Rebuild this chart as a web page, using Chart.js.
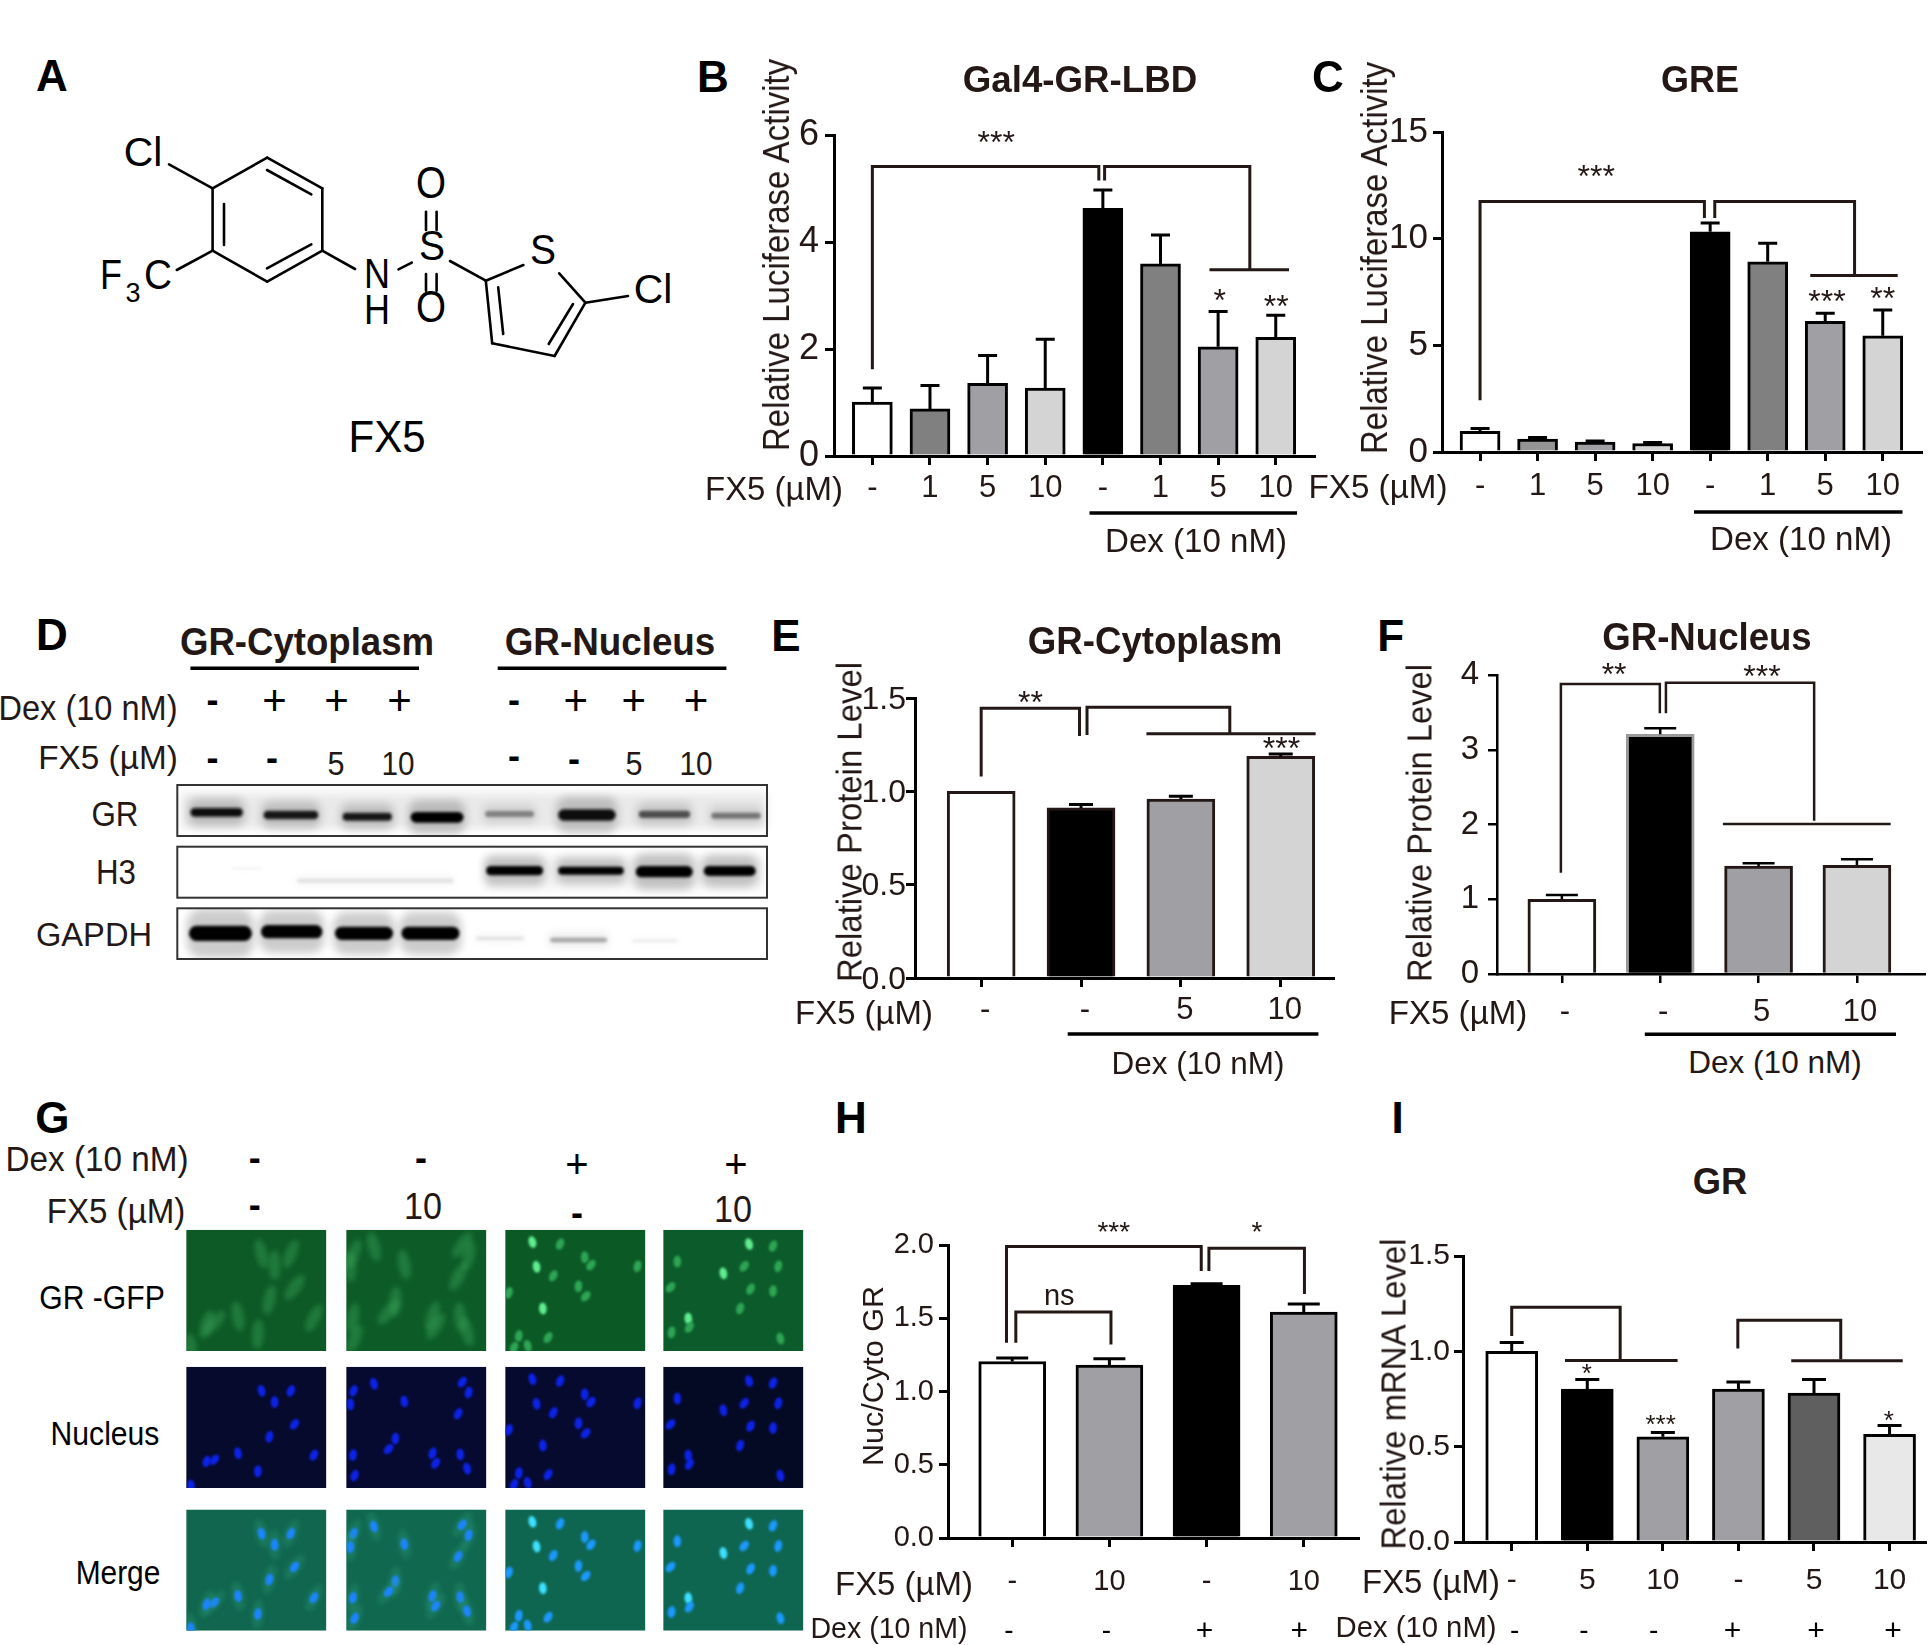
<!DOCTYPE html>
<html>
<head>
<meta charset="utf-8">
<title>FX5</title>
<script src="https://cdn.jsdelivr.net/npm/chart.js@4/dist/chart.umd.min.js"></script>
<style>
  html, body { margin: 0; padding: 0; background: #fff; }
  #page { position: relative; width: 1929px; height: 1645px; overflow: hidden; background: #fff; }
  #page canvas { position: absolute; z-index: 1; }
  #art { position: absolute; left: 0; top: 0; z-index: 0; }
  .txt { position: absolute; z-index: 2; white-space: pre; line-height: 1; font-family: "Liberation Sans", Arial, sans-serif; }
</style>
</head>
<body>
<div id="page"></div>
<script>
const FONT = '"Liberation Sans", Arial, sans-serif';
const INK = '#231815';

// Panel colours
const WHITE = '#ffffff', BLACK = '#000000', DARK = '#808080', MID = '#a0a0a4', LIGHT = '#d4d4d4';

// B - Gal4-GR-LBD
const bLabels = ['-', '1', '5', '10', '-', '1', '5', '10'];
const bValues = [1.01, 0.88, 1.36, 1.27, 4.63, 3.59, 2.04, 2.22];
const bErrors = [0.26, 0.44, 0.52, 0.91, 0.34, 0.54, 0.66, 0.41];
const bColors = [WHITE, DARK, MID, LIGHT, BLACK, DARK, MID, LIGHT];

// C - GRE
const cLabels = ['-', '1', '5', '10', '-', '1', '5', '10'];
const cValues = [0.97, 0.61, 0.47, 0.40, 10.32, 8.92, 6.13, 5.45];
const cErrors = [0.13, 0.07, 0.05, 0.05, 0.41, 0.87, 0.37, 1.21];
const cColors = [WHITE, '#949494', MID, LIGHT, BLACK, DARK, MID, LIGHT];

// E - GR-Cytoplasm
const eLabels = ['-', '-', '5', '10'];
const eValues = [1.0, 0.911, 0.959, 1.187];
const eErrors = [0, 0.018, 0.014, 0.013];
const eColors = [WHITE, BLACK, MID, LIGHT];

// F - GR-Nucleus
const fLabels = ['-', '-', '5', '10'];
const fValues = [1.0, 3.206, 1.445, 1.454];
const fErrors = [0.057, 0.081, 0.035, 0.08];
const fColors = [WHITE, BLACK, MID, LIGHT];

// H - Nuc/Cyto GR
const hLabels = ['-', '10', '-', '10'];
const hValues = [1.205, 1.181, 1.725, 1.542];
const hErrors = [0.024, 0.043, 0.01, 0.056];
const hColors = [WHITE, MID, BLACK, MID];

// I - GR mRNA
const iLabels = ['-', '5', '10', '-', '5', '10'];
const iValues = [1.0, 0.802, 0.552, 0.802, 0.781, 0.565];
const iErrors = [0.046, 0.05, 0.022, 0.037, 0.071, 0.046];
const iColors = [WHITE, BLACK, MID, MID, '#5f5f5f', '#e8e8e8'];

// Significance brackets, as [category index, value] corners on each chart's own scales
const bBrackets = [
  [[0, 1.62], [0, 5.41], [3.93, 5.41], [3.93, 5.15]],
  [[4.03, 5.15], [4.03, 5.41], [6.55, 5.41], [6.55, 3.48]],
  [[5.85, 3.48], [7.23, 3.48]]
];
const cBrackets = [
  [[0, 2.42], [0, 11.74], [3.9, 11.74], [3.9, 10.97]],
  [[4.08, 10.97], [4.08, 11.74], [6.51, 11.74], [6.51, 8.27]],
  [[5.74, 8.27], [7.26, 8.27]]
];
const eBrackets = [
  [[0, 1.08], [0, 1.445], [0.985, 1.445], [0.985, 1.297]],
  [[1.06, 1.302], [1.06, 1.45], [2.49, 1.45], [2.49, 1.31]],
  [[1.655, 1.308], [3.35, 1.308]]
];
const fBrackets = [
  [[-0.01, 1.355], [-0.01, 3.879], [0.996, 3.879], [0.996, 3.487]],
  [[1.058, 3.487], [1.058, 3.897], [2.565, 3.897], [2.565, 2.05]],
  [[1.637, 2.007], [3.343, 2.007]]
];
const hBrackets = [
  [[-0.059, 1.333], [-0.059, 1.99], [1.945, 1.99], [1.945, 1.822]],
  [[2.024, 1.822], [2.024, 1.978], [3.007, 1.978], [3.007, 1.665]],
  [[0.037, 1.333], [0.037, 1.542], [1.016, 1.542], [1.016, 1.32]]
];
const iBrackets = [
  [[0, 1.08], [0, 1.231], [1.435, 1.231], [1.435, 0.959]],
  [[0.705, 0.952], [2.195, 0.952]],
  [[2.992, 1.015], [2.992, 1.163], [4.354, 1.163], [4.354, 0.959]],
  [[3.699, 0.95], [5.174, 0.95]]
];

// Stars and "ns": text, category index, value
const bNotes = [['***', 2.15, 5.95], ['*', 6.03, 3.0], ['**', 7.01, 2.89]];
const cNotes = [['***', 2.02, 13.15], ['***', 6.03, 7.29], ['**', 7.0, 7.42]];
const eNotes = [['**', 0.494, 1.504], ['***', 3.008, 1.258]];
const fNotes = [['**', 0.531, 4.067], ['***', 2.035, 4.045]];
const hNotes = [['***', 1.045, 2.12], ['*', 2.519, 2.116], ['ns', 0.484, 1.653]];
const iNotes = [['*', 0.993, 0.905], ['***', 1.971, 0.639], ['*', 4.99, 0.657]];

const nucleiCol1 = [[500,850],[556,850],[525,882],[563,945],[515,980],[455,1027],[600,1032],[493,1078],[410,1045],[395,1050],[365,1118]];
const nucleiCol2 = [[717,830],[678,850],[672,888],[886,825],[898,855],[775,880],[878,915],[758,985],[745,1015],[829,1027],[882,1030],[835,1055],[677,1032],[895,1070],[680,1090]];
const nucleiCol3 = [[1020,817],[1073,822],[1120,860],[1132,882],[1221,885],[1028,887],[1060,912],[1108,942],[1122,970],[975,960],[1040,1005],[1050,1087],[994,1083],[1011,1110],[985,1115]];
const nucleiCol4 = [[1432,822],[1478,828],[1295,872],[1423,885],[1488,885],[1383,905],[1435,950],[1478,955],[1282,945],[1415,1005],[1316,1033],[1318,1058],[1284,1072],[1492,1090]];

// Western blot bands: x from, x to, y, thickness, darkness
const grBands = [[378,482,637,26,.95],[523,632,645,26,.9],[680,778,650,24,.9],[815,920,652,32,1],[963,1060,642,18,.5],[1108,1222,645,34,.95],[1268,1370,643,22,.7],[1412,1510,647,18,.55]];
const h3Bands = [[965,1078,812,28,1],[1108,1238,812,24,1],[1262,1375,815,34,1],[1397,1500,813,30,1],[590,900,842,12,.12],[460,520,805,5,.06]];
const gapdhBands = [[375,500,1000,46,1],[518,640,995,40,1],[665,780,1000,40,1],[797,912,1000,40,1],[945,1040,1015,10,.12],[1092,1205,1020,14,.35],[1255,1345,1022,8,.08]];

const page = document.getElementById('page');
const measure = document.createElement('canvas').getContext('2d');

/**
 * Places a text centred on (cx, cy); w stretches it to a given length
 */
function label(str, cx, cy, size, opts = {}) {
  const el = document.createElement('span');
  el.className = 'txt';
  el.textContent = str;
  const weight = opts.bold ? 'bold' : 'normal';
  el.style.left = cx + 'px';
  el.style.top = cy + 'px';
  el.style.fontSize = size + 'px';
  el.style.fontWeight = weight;
  el.style.color = opts.color || INK;
  let transform = 'translate(-50%,-50%)';
  if (opts.rot) transform += ` rotate(${opts.rot}deg)`;
  if (opts.w) {
    measure.font = `${weight} ${size}px ${FONT}`;
    transform += ` scaleX(${opts.w / measure.measureText(str).width})`;
  }
  el.style.transform = transform;
  page.appendChild(el);
}

// Draws error bars, brackets and stars from each chart's own scales
const annotations = {
  id: 'annotations',
  afterDatasetsDraw(chart, args, o) {
    const { ctx, scales: { x, y } } = chart;
    ctx.save();
    ctx.strokeStyle = '#000';
    ctx.lineWidth = o.lineWidth;
    o.values.forEach((v, i) => {
      if (!o.errors[i]) return;
      const px = x.getPixelForValue(i);
      const y0 = y.getPixelForValue(v);
      const y1 = y.getPixelForValue(v + o.errors[i]);
      ctx.beginPath();
      ctx.moveTo(px, y0);
      ctx.lineTo(px, y1);
      ctx.moveTo(px - o.capWidth / 2, y1);
      ctx.lineTo(px + o.capWidth / 2, y1);
      ctx.stroke();
    });
    ctx.strokeStyle = INK;
    ctx.lineWidth = o.bracketWidth;
    o.brackets.forEach(path => {
      ctx.beginPath();
      path.forEach(([a, b], i) => {
        const px = x.getPixelForValue(a), py = y.getPixelForValue(b);
        if (i === 0) ctx.moveTo(px, py); else ctx.lineTo(px, py);
      });
      ctx.stroke();
    });
    ctx.fillStyle = INK;
    ctx.textAlign = 'center';
    ctx.textBaseline = 'alphabetic';
    o.notes.forEach(([str, a, b]) => {
      const ns = str === 'ns';
      const size = ns ? o.nsSize : o.starSize;
      ctx.font = `${size}px ${FONT}`;
      // Stars sit high in the em box, so the baseline is pushed down to centre them
      ctx.fillText(str, x.getPixelForValue(a), y.getPixelForValue(b) + size * (ns ? 0.32 : 0.48));
    });
    ctx.restore();
  }
};

/**
 * Creates one bar chart panel with its plot area pinned to the given page position
 */
function barPanel(p) {
  const leftRoom = 70, topRoom = 50, bottomRoom = 70;
  const canvas = document.createElement('canvas');
  canvas.width = p.right - p.axisX + leftRoom;
  canvas.height = p.bottom - p.top + topRoom + bottomRoom;
  canvas.style.left = (p.axisX - leftRoom) + 'px';
  canvas.style.top = (p.top - topRoom) + 'px';
  page.appendChild(canvas);

  const tickLen = 9;
  const axisWidth = p.axisWidth || 3;
  new Chart(canvas.getContext('2d'), {
    type: 'bar',
    data: {
      datasets: [{
        data: p.values.map((v, i) => ({ x: i, y: v })),
        backgroundColor: p.colors,
        borderColor: p.colors.map((c, i) => (p.borderColors && p.borderColors[i]) || '#000'),
        borderWidth: p.barBorder || 3,
        borderSkipped: 'bottom',
        barThickness: p.barWidth
      }]
    },
    options: {
      responsive: false,
      animation: false,
      layout: { padding: { top: topRoom } },
      plugins: {
        legend: { display: false },
        tooltip: { enabled: false },
        annotations: {
          values: p.values, errors: p.errors, brackets: p.brackets, notes: p.notes,
          lineWidth: p.errWidth || 3, capWidth: p.capWidth, bracketWidth: p.bracketWidth || 3,
          starSize: p.starSize, nsSize: p.nsSize || 30
        }
      },
      scales: {
        x: {
          type: 'linear',
          bounds: 'data',
          offset: false,
          min: (p.axisX - p.firstTick) / p.step,
          max: (p.right - p.firstTick) / p.step,
          afterBuildTicks: ax => { ax.ticks = p.labels.map((_, i) => ({ value: i })); },
          afterFit: s => { s.height = bottomRoom; },
          grid: { offset: false, drawOnChartArea: false, tickLength: tickLen, lineWidth: axisWidth, color: '#000' },
          border: { color: '#000', width: axisWidth },
          ticks: {
            autoSkip: false, maxRotation: 0, minRotation: 0,
            padding: p.xLabelY - p.bottom - tickLen - p.xSize * 0.6,
            labelOffset: p.labelOffset || 0,
            color: INK,
            font: { family: FONT, size: p.xSize },
            callback: (v, i) => p.labels[i]
          }
        },
        y: {
          min: 0,
          max: p.yMax,
          afterFit: s => { s.width = leftRoom; },
          grid: { drawOnChartArea: false, tickLength: tickLen, lineWidth: axisWidth, color: '#000' },
          border: { color: '#000', width: axisWidth },
          ticks: {
            stepSize: p.yStep,
            padding: p.yPad,
            labelOffset: p.yLabelOffset || 0,
            color: INK,
            font: { family: FONT, size: p.ySize },
            callback: v => v.toFixed(p.yDigits)
          }
        }
      }
    },
    plugins: [annotations]
  });
}

barPanel({ axisX: 834.4, top: 135, bottom: 456, right: 1317, firstTick: 872.8, step: 57.7, barWidth: 40, capWidth: 19,
  yMax: 6, yStep: 2, yDigits: 0, ySize: 36, yPad: 6, xSize: 31, xLabelY: 488,
  labels: bLabels, values: bValues, errors: bErrors, colors: bColors, brackets: bBrackets, notes: bNotes, starSize: 32 });

barPanel({ axisX: 1442.4, top: 131.6, bottom: 451.8, right: 1924, firstTick: 1480.5, step: 57.6, barWidth: 40, capWidth: 19,
  yMax: 15, yStep: 5, yDigits: 0, ySize: 35, yPad: 5, xSize: 31, xLabelY: 486,
  labels: cLabels, values: cValues, errors: cErrors, colors: cColors, brackets: cBrackets, notes: cNotes, starSize: 32 });

barPanel({ axisX: 915.4, top: 698.3, bottom: 979, right: 1335.6, firstTick: 981.6, step: 99.9, barWidth: 68, capWidth: 24,
  yMax: 1.5, yStep: 0.5, yDigits: 1, ySize: 32, yPad: 0, yLabelOffset: 2, xSize: 31, xLabelY: 1011.7, labelOffset: 4,
  labels: eLabels, values: eValues, errors: eErrors, colors: eColors, borderColors: [INK, INK, INK, INK], brackets: eBrackets, notes: eNotes, starSize: 32 });

barPanel({ axisX: 1496.8, top: 675, bottom: 974, right: 1926, firstTick: 1561.7, step: 98.4, barWidth: 68, capWidth: 32, barBorder: 3,
  yMax: 4, yStep: 1, yDigits: 0, ySize: 33, yPad: 9, xSize: 31, xLabelY: 1012, labelOffset: 3, axisWidth: 2.5, errWidth: 2.5, bracketWidth: 2.5,
  labels: fLabels, values: fValues, errors: fErrors, colors: fColors, borderColors: [INK, '#9a9a9a', INK, INK], brackets: fBrackets, notes: fNotes, starSize: 32 });

barPanel({ axisX: 947.5, top: 1245, bottom: 1538.8, right: 1360, firstTick: 1011.8, step: 97.3, barWidth: 67, capWidth: 32,
  yMax: 2, yStep: 0.5, yDigits: 1, ySize: 29, yPad: 5, xSize: 29, xLabelY: 1583,
  labels: hLabels, values: hValues, errors: hErrors, colors: hColors, brackets: hBrackets, notes: hNotes, starSize: 28, nsSize: 29 });

barPanel({ axisX: 1463.2, top: 1256.4, bottom: 1543, right: 1928, firstTick: 1512, step: 75.7, barWidth: 52, capWidth: 24,
  yMax: 1.5, yStep: 0.5, yDigits: 1, ySize: 30, yPad: 4, xSize: 30, xLabelY: 1582,
  labels: iLabels, values: iValues, errors: iErrors, colors: iColors, brackets: iBrackets, notes: iNotes, starSize: 26 });

/* ---------- Non chart artwork: structure, blots and microscopy fields ---------- */

const art = [];
function seg(x1, y1, x2, y2, w = 2.6, color = '#000') {
  art.push(`<line x1="${x1}" y1="${y1}" x2="${x2}" y2="${y2}" stroke="${color}" stroke-width="${w}" stroke-linecap="round"/>`);
}

// Structure of FX5
[
  [267.2,157.7,322.3,188.3],[322.3,188.3,322.3,250.7],[322.3,250.7,267.2,281.7],
  [267.2,281.7,212.6,250.7],[212.6,250.7,212.6,188.3],[212.6,188.3,267.2,157.7],
  [267,170,311.3,194.3],[224,204,224,245],[267,268.3,311.3,244.3],
  [169,164.3,212.6,188.3],[176.8,270,212.6,250.7],[322.3,250.7,355,269],[398.5,269.3,411.8,262.7],
  [426,211.7,426,230],[436.6,211.7,436.6,230],[426,274,426,290.7],[436.6,274,436.6,290.7],
  [450,261,485.8,280.7],[485.8,280.7,492.2,343.3],[492.2,343.3,554.6,356],[554.6,356,585.4,302.7],
  [485.8,280.7,523.4,265],[559.2,273.3,585.4,302.7],[498.2,287.3,503.2,334],[548.7,344,573,304],
  [585.4,302.7,628,296]
].forEach(s => seg(...s));

label('Cl', 143, 151.7, 41, { w: 38.6, color: '#000' });
label('F', 111, 275, 42, { w: 22, color: '#000' });
label('3', 133, 293, 28, { w: 15, color: '#000' });
label('C', 158, 275, 42, { w: 28, color: '#000' });
label('N', 377.4, 274, 42, { w: 26, color: '#000' });
label('H', 377.4, 310, 42, { w: 26, color: '#000' });
label('S', 431.6, 246, 42, { w: 26, color: '#000' });
label('O', 430.7, 183.3, 44, { w: 30, color: '#000' });
label('O', 430.7, 306.7, 44, { w: 30, color: '#000' });
label('S', 543, 250, 42, { w: 26, color: '#000' });
label('Cl', 653.4, 289.3, 41, { w: 38.6, color: '#000' });
label('FX5', 387, 437.3, 44, { w: 77, color: '#000' });

// Western blot
function bands(list, boxTop, boxHeight) {
  const left = 177.3, width = 589.7;
  let s = `<svg x="${left}" y="${boxTop}" width="${width}" height="${boxHeight}">`;
  list.forEach(([a, b, zy, th, dark]) => {
    const x = a / 1.985 - left, w = (b - a) / 1.985, y = zy / 3 + 600 - boxTop, h = th / 3;
    const grey = Math.round(255 * (1 - dark));
    s += `<rect x="${x - 2}" y="${y - h * 1.6}" width="${w + 4}" height="${h * 3.2}" rx="${h}" fill="#000" opacity="${dark * 0.2}" filter="url(#blurWide)"/>`;
    s += `<rect x="${x}" y="${y - h / 2}" width="${w}" height="${h}" rx="${h / 2}" fill="rgb(${grey},${grey},${grey})" filter="url(#blurBand)"/>`;
  });
  return s + '</svg>';
}
art.push('<rect x="181" y="793" width="586" height="36" fill="#e9e9e9" filter="url(#blurWide)"/>');
art.push('<rect x="484" y="855" width="280" height="34" fill="#f2f2f2" filter="url(#blurWide)"/>');
art.push(bands(grBands, 785, 51));
art.push(bands(h3Bands, 846.7, 51));
art.push(bands(gapdhBands, 908.3, 50.7));
[[785, 51], [846.7, 51], [908.3, 50.7]].forEach(([y, h]) => {
  art.push(`<rect x="177.3" y="${y}" width="589.7" height="${h}" fill="none" stroke="#333" stroke-width="2"/>`);
});

// Microscopy fields
const tileX = [186.2, 346.2, 505.2, 663.2];
const tileY = [1229.8, 1366.8, 1509.5];
const tileW = 140.2, tileH = 121.2;
const fieldLeft = [356, 664, 968, 1268];
const allNuclei = [nucleiCol1, nucleiCol2, nucleiCol3, nucleiCol4];
const tileBack = [
  ['#0d5a26', '#0d5c28', '#0b5a26', '#0b5c2a'],
  ['#060a2c', '#060a30', '#060a2e', '#050a24'],
  ['#10664e', '#10684f', '#0e6650', '#0e6650']
];

function fieldTile(row, col) {
  const nuclear = col >= 2;
  let s = `<svg x="${tileX[col]}" y="${tileY[row]}" width="${tileW}" height="${tileH}">`;
  s += `<rect width="${tileW}" height="${tileH}" fill="${tileBack[row][col]}"/>`;
  allNuclei[col].forEach(([zx, zy], i) => {
    const x = (zx - fieldLeft[col]) / 268 * tileW;
    const y = (zy - 782) / 343 * tileH;
    const ang = (i * 37) % 60 - 30 + 15;
    const t = `transform="rotate(${ang} ${x} ${y})"`;
    if (row !== 1 && !nuclear) {
      const halo = row === 0 ? '#3aa65c' : '#2f9c78';
      s += `<ellipse cx="${x}" cy="${y}" rx="6" ry="15" fill="${halo}" opacity="${row === 0 ? 0.42 : 0.35}" ${t} filter="url(#blurCell)"/>`;
    }
    let fill = '#0a22e8';
    if (row === 0) fill = nuclear ? (i % 5 === 0 ? '#62ec90' : '#2ea554') : '#3fae62';
    if (row === 2) fill = nuclear ? (i % 5 === 0 ? '#3ce0ff' : '#1a98ff') : '#1c84ff';
    if (row === 0 && !nuclear) return;
    s += `<ellipse cx="${x}" cy="${y}" rx="3.8" ry="6" fill="${fill}" ${t} filter="url(#blurDot)"/>`;
  });
  return s + '</svg>';
}
tileY.forEach((_, row) => tileX.forEach((_, col) => art.push(fieldTile(row, col))));

// Treatment underlines
[
  [1089.5, 513, 1297, 513], [1694, 512, 1902.5, 512],
  [190.4, 668.3, 419, 668.3], [497.7, 668.3, 726.4, 668.3],
  [1067.7, 1034, 1318.4, 1034], [1644.8, 1034.3, 1896, 1034.3]
].forEach(([a, b, c, d]) => art.push(`<line x1="${a}" y1="${b}" x2="${c}" y2="${d}" stroke="#000" stroke-width="3.4"/>`));

const svgBox = document.createElement('div');
svgBox.innerHTML = `<svg id="art" width="1929" height="1645" xmlns="http://www.w3.org/2000/svg">
  <defs>
    <filter id="blurBand" x="-20%" y="-80%" width="140%" height="260%"><feGaussianBlur stdDeviation="1.4"/></filter>
    <filter id="blurWide" x="-20%" y="-80%" width="140%" height="260%"><feGaussianBlur stdDeviation="4"/></filter>
    <filter id="blurCell" x="-80%" y="-80%" width="260%" height="260%"><feGaussianBlur stdDeviation="2.6"/></filter>
    <filter id="blurDot" x="-50%" y="-50%" width="200%" height="200%"><feGaussianBlur stdDeviation="0.8"/></filter>
  </defs>${art.join('')}</svg>`;
page.appendChild(svgBox.firstChild);

/* ---------- Text ---------- */

// Panel letters
[['A', 52, 76], ['B', 713, 76.5], ['C', 1328, 76.5], ['D', 52, 635], ['E', 786, 636], ['F', 1390.8, 636],
 ['G', 52.3, 1117.6], ['H', 851, 1117.6], ['I', 1397.5, 1117.6]].forEach(([t, x, y]) => label(t, x, y, 44, { bold: true, color: '#000' }));

// Panel titles
label('Gal4-GR-LBD', 1079.6, 79, 37, { bold: true, w: 234.5 });
label('GRE', 1700, 79, 37, { bold: true, w: 78 });
label('GR-Cytoplasm', 307, 641.7, 38, { bold: true, w: 254 });
label('GR-Nucleus', 609.6, 642.3, 38, { bold: true, w: 210.6 });
label('GR-Cytoplasm', 1154.6, 640.7, 38, { bold: true, w: 254.5 });
label('GR-Nucleus', 1706.5, 637.3, 38, { bold: true, w: 209.4 });
label('GR', 1720, 1181, 37, { bold: true, w: 54.5 });

// Axis titles
label('Relative Luciferase Activity', 777, 254.6, 36, { rot: -90, w: 394 });
label('Relative Luciferase Activity', 1375.4, 258, 36, { rot: -90, w: 394 });
label('Relative Protein Level', 848.5, 821.7, 35, { rot: -90, w: 320 });
label('Relative Protein Level', 1419, 822.5, 35, { rot: -90, w: 318 });
label('Nuc/Cyto GR', 872.5, 1376, 30, { rot: -90, w: 180 });
label('Relative mRNA Level', 1393.3, 1393.6, 35, { rot: -90, w: 313 });

// Treatment row headers
label('FX5 (µM)', 774, 488, 33, { w: 138 });
label('FX5 (µM)', 1378, 486, 33, { w: 139 });
label('Dex (10 nM)', 1196, 539.6, 33, { w: 182 });
label('Dex (10 nM)', 1801.4, 538, 33, { w: 182 });
label('Dex (10 nM)', 88, 706.7, 35, { w: 179 });
label('FX5 (µM)', 108, 756.7, 34, { w: 139.5 });
label('FX5 (µM)', 863.8, 1011.7, 33, { w: 137.8 });
label('FX5 (µM)', 1458, 1012.3, 33, { w: 138.6 });
label('Dex (10 nM)', 1197.9, 1062.7, 32, { w: 173 });
label('Dex (10 nM)', 1774.7, 1062.3, 32, { w: 173.5 });
label('Dex (10 nM)', 96.8, 1158.3, 35, { w: 183 });
label('FX5 (µM)', 116, 1209.6, 35, { w: 138.6 });
label('FX5 (µM)', 903.6, 1583, 33, { w: 138 });
label('Dex (10 nM)', 888.5, 1628, 30, { w: 157 });
label('FX5 (µM)', 1431.3, 1581.3, 33, { w: 138 });
label('Dex (10 nM)', 1415.6, 1627.3, 30, { w: 161 });

// Blot treatment rows
[[212.6, '-'], [274.6, '+'], [336.5, '+'], [399.5, '+'], [513.9, '-'], [575.8, '+'], [633.8, '+'], [696, '+']].forEach(([x, t]) =>
  label(t, x, t === '+' ? 701 : 700, t === '+' ? 42 : 36, { bold: t === '-', color: '#000' }));
[[212.6, '-', 758], [272, '-', 758], [336, '5', 763], [398, '10', 763], [514, '-', 755.7], [574, '-', 759], [633.8, '5', 763], [696, '10', 763]].forEach(([x, t, y]) =>
  t === '-' ? label(t, x, y, 36, { bold: true, color: '#000' }) : label(t, x, y, 34, { w: t === '5' ? 17 : 33 }));
label('GR', 115, 813, 35, { w: 47 });
label('H3', 116, 870.7, 35, { w: 40 });
label('GAPDH', 93.7, 934.3, 34, { w: 116 });

// Microscopy treatment rows
label('-', 254.7, 1158, 36, { bold: true, color: '#000' });
label('-', 421, 1158, 36, { bold: true, color: '#000' });
label('+', 577, 1163.6, 40, { color: '#000' });
label('+', 736, 1163.6, 40, { color: '#000' });
label('-', 254.7, 1205, 36, { bold: true, color: '#000' });
label('10', 422.6, 1206.8, 36, { w: 38 });
label('-', 577, 1212.8, 36, { bold: true, color: '#000' });
label('10', 733, 1210.4, 36, { w: 38 });
label('GR -GFP', 102, 1297, 34, { w: 125.5, color: '#000' });
label('Nucleus', 104.6, 1432.7, 34, { w: 108.8, color: '#000' });
label('Merge', 117.7, 1572, 34, { w: 84.7, color: '#000' });

// Dex rows under H and I
[[1009, '-'], [1106.4, '-'], [1204.6, '+'], [1299.3, '+'], [1514.7, '-'], [1584, '-'], [1653.7, '-'], [1732.6, '+'], [1816, '+'], [1893, '+']].forEach(([x, t]) =>
  label(t, x, 1630, t === '+' ? 30 : 28, { color: '#000' }));
</script>
</body>
</html>
